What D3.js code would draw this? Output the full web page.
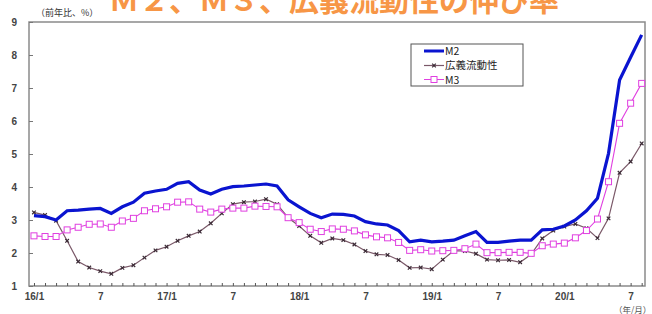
<!DOCTYPE html>
<html>
<head>
<meta charset="utf-8">
<script src="https://cdn.jsdelivr.net/npm/d3@7"></script>
<style>
body { margin: 0; background: #fff; }
svg { display: block; font-family: "Liberation Sans", Arial, "Noto Sans CJK JP", sans-serif; }
</style>
</head>
<body>
<div id="chart"></div>
<script>
// months Jan 2016 .. Aug 2020 (index 0..55)
var xLabels = ["16/1", "7", "17/1", "7", "18/1", "7", "19/1", "7", "20/1", "7"];
var yTicks = [1, 2, 3, 4, 5, 6, 7, 8, 9];

var m2 = [3.13, 3.10, 3.00, 3.28, 3.30, 3.33, 3.35, 3.20, 3.40, 3.54, 3.81, 3.88,
          3.93, 4.11, 4.16, 3.91, 3.79, 3.93, 4.01, 4.03, 4.06, 4.09, 4.03, 3.61,
          3.40, 3.20, 3.07, 3.18, 3.17, 3.12, 2.95, 2.88, 2.85, 2.68, 2.34, 2.39,
          2.34, 2.36, 2.39, 2.52, 2.65, 2.32, 2.32, 2.36, 2.39, 2.39, 2.70, 2.72,
          2.82, 3.00, 3.28, 3.66, 5.02, 7.24, 7.93, 8.61];
var kogi = [3.23, 3.15, 2.98, 2.37, 1.74, 1.56, 1.45, 1.37, 1.55, 1.63, 1.86, 2.08,
            2.19, 2.37, 2.52, 2.65, 2.90, 3.20, 3.48, 3.54, 3.56, 3.63, 3.48, 3.07,
            2.82, 2.52, 2.31, 2.44, 2.39, 2.26, 2.06, 1.96, 1.94, 1.79, 1.55, 1.56,
            1.51, 1.80, 2.07, 2.06, 1.98, 1.80, 1.78, 1.79, 1.72, 1.96, 2.44, 2.68,
            2.80, 2.88, 2.75, 2.45, 3.05, 4.43, 4.77, 5.32];
var m3 = [2.52, 2.50, 2.50, 2.70, 2.78, 2.87, 2.88, 2.78, 2.97, 3.05, 3.28, 3.34,
          3.40, 3.54, 3.55, 3.33, 3.24, 3.33, 3.36, 3.36, 3.42, 3.41, 3.40, 3.07,
          2.92, 2.72, 2.65, 2.73, 2.72, 2.67, 2.55, 2.49, 2.46, 2.32, 2.08, 2.10,
          2.06, 2.07, 2.08, 2.13, 2.27, 2.01, 2.01, 2.02, 2.02, 1.99, 2.22, 2.27,
          2.30, 2.46, 2.68, 3.03, 4.16, 5.93, 6.54, 7.14];

var W = 652, H = 314;
var plotL = 29, plotR = 645, plotT = 22, plotB = 286;

var svg = d3.select("#chart")
  .append("svg")
  .attr("width", W)
  .attr("height", H);

var x = d3.scaleLinear()
  .domain([-0.45, 55.3])
  .range([plotL, plotR]);

var y = d3.scaleLinear()
  .domain([1, 9])
  .range([plotB, plotT]);

// title (cut at top edge like the original)
svg.append("text")
  .attr("x", 334)
  .attr("y", 11)
  .attr("text-anchor", "middle")
  .style("font-family", "'Noto Sans CJK JP', sans-serif")
  .style("font-size", "30px")
  .style("font-weight", "bold")
  .style("fill", "#f79646")
  .text("Ｍ２、Ｍ３、広義流動性の伸び率");

svg.append("text")
  .attr("x", 36)
  .attr("y", 16)
  .style("font-family", "'Noto Sans CJK JP', sans-serif")
  .style("font-size", "9px")
  .style("fill", "#333")
  .text("（前年比、%）");

svg.append("text")
  .attr("x", 614)
  .attr("y", 313)
  .style("font-family", "'Noto Sans CJK JP', sans-serif")
  .style("font-size", "8.5px")
  .style("fill", "#555")
  .text("（年/月）");

// plot frame
svg.append("rect")
  .attr("x", plotL)
  .attr("y", plotT)
  .attr("width", plotR - plotL)
  .attr("height", plotB - plotT)
  .style("fill", "none")
  .style("stroke", "#8a8a8a")
  .style("stroke-width", 1.5);

// Y axis
var yAxis = svg.append("g")
  .attr("transform", "translate(" + plotL + ",0)")
  .call(d3.axisLeft(y).tickValues(yTicks).tickSizeInner(-4).tickSizeOuter(0).tickPadding(12).tickFormat(d3.format("d")));
yAxis.select(".domain").remove();
yAxis.selectAll("line").style("stroke", "#777");
yAxis.selectAll("text").style("font-size", "10px").style("font-weight", "bold").style("fill", "#444");

// X axis
var xAxis = svg.append("g")
  .attr("transform", "translate(0," + plotB + ")")
  .call(d3.axisBottom(x).tickValues(d3.range(0, 56)).tickSizeInner(-3).tickSizeOuter(0).tickPadding(7)
    .tickFormat(function (d) { return d % 6 === 0 ? xLabels[d / 6] : ""; }));
xAxis.select(".domain").remove();
xAxis.selectAll("line").style("stroke", "#555");
xAxis.selectAll("text").style("font-size", "10px").style("font-weight", "bold").style("fill", "#444");

var line = d3.line()
  .x(function (d, i) { return x(i); })
  .y(function (d) { return y(d); });

// 広義流動性
svg.append("path")
  .datum(kogi)
  .attr("d", line)
  .style("fill", "none")
  .style("stroke", "#7a5868")
  .style("stroke-width", 1.2);

svg.append("g")
  .selectAll("path")
  .data(kogi)
  .enter()
  .append("path")
  .attr("d", function (d, i) {
    var cx = x(i), cy = y(d), s = 1.8;
    return "M" + (cx - s) + "," + (cy - s) + "L" + (cx + s) + "," + (cy + s) +
           "M" + (cx - s) + "," + (cy + s) + "L" + (cx + s) + "," + (cy - s);
  })
  .style("stroke", "#3a2a35")
  .style("stroke-width", 1.2);

// M3
svg.append("path")
  .datum(m3)
  .attr("d", line)
  .style("fill", "none")
  .style("stroke", "#e040e0")
  .style("stroke-width", 1.1);

svg.append("g")
  .selectAll("rect")
  .data(m3)
  .enter()
  .append("rect")
  .attr("x", function (d, i) { return x(i) - 3; })
  .attr("y", function (d) { return y(d) - 3; })
  .attr("width", 6)
  .attr("height", 6)
  .style("fill", "#fff")
  .style("stroke", "#e040e0")
  .style("stroke-width", 1);

// M2
svg.append("path")
  .datum(m2)
  .attr("d", line)
  .style("fill", "none")
  .style("stroke", "#0a14d0")
  .style("stroke-width", 3.2);

// legend
var lg = svg.append("g");
lg.append("rect")
  .attr("x", 411)
  .attr("y", 44)
  .attr("width", 112)
  .attr("height", 42)
  .style("fill", "#fff")
  .style("stroke", "#555")
  .style("stroke-width", 1);

lg.append("line")
  .attr("x1", 424).attr("x2", 444).attr("y1", 51).attr("y2", 51)
  .style("stroke", "#0a14d0").style("stroke-width", 3);
lg.append("line")
  .attr("x1", 424).attr("x2", 444).attr("y1", 65.5).attr("y2", 65.5)
  .style("stroke", "#7a5868").style("stroke-width", 1.2);
lg.append("path")
  .attr("d", "M432.2,63.7L435.8,67.3M432.2,67.3L435.8,63.7")
  .style("stroke", "#3a2a35").style("stroke-width", 1.2);
lg.append("line")
  .attr("x1", 424).attr("x2", 444).attr("y1", 79.5).attr("y2", 79.5)
  .style("stroke", "#e040e0").style("stroke-width", 1);
lg.append("rect")
  .attr("x", 431).attr("y", 76.5).attr("width", 6).attr("height", 6)
  .style("fill", "#fff").style("stroke", "#e040e0");

var legendNames = ["M2", "広義流動性", "M3"];
lg.selectAll("text.lt")
  .data(legendNames)
  .enter()
  .append("text")
  .attr("class", "lt")
  .attr("x", 445)
  .attr("y", function (d, i) { return 55 + i * 14.3; })
  .style("font-family", "'Noto Sans CJK JP', sans-serif")
  .style("font-size", "10.5px")
  .style("fill", "#222")
  .text(function (d) { return d; });
</script>
</body>
</html>
